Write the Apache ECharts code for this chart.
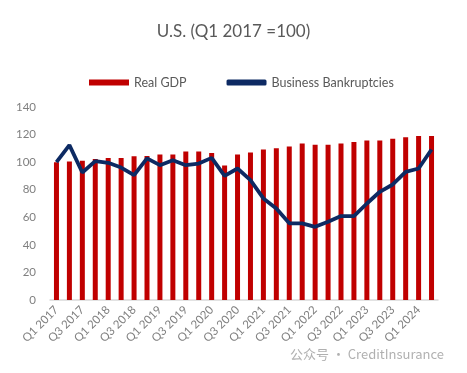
<!DOCTYPE html>
<html><head><meta charset="utf-8">
<script src="https://cdn.jsdelivr.net/npm/echarts@6/dist/echarts.min.js"></script>
<style>html,body{margin:0;padding:0;background:#fff}#c{width:467px;height:373px}</style>
</head><body><div id="c"></div>
<script>
const categories = ["Q1 2017","Q2 2017","Q3 2017","Q4 2017","Q1 2018","Q2 2018","Q3 2018","Q4 2018","Q1 2019","Q2 2019","Q3 2019","Q4 2019","Q1 2020","Q2 2020","Q3 2020","Q4 2020","Q1 2021","Q2 2021","Q3 2021","Q4 2021","Q1 2022","Q2 2022","Q3 2022","Q4 2022","Q1 2023","Q2 2023","Q3 2023","Q4 2023","Q1 2024","Q2 2024"];
const realGDP = [100,100.5,101,102.2,103,103,104.3,104.5,105.5,105.5,107.7,107.7,106.7,97.6,105.5,107,109.2,110.1,111.3,113.5,112.6,112.6,113.5,114.7,115.7,115.7,116.9,118.1,119,119];
const bankruptcies = [100,112.3,92.5,100.7,99.5,96.1,90.6,102.7,97.8,101.4,97.8,99,103.1,90,95.4,87,73.7,66.4,55.6,55.6,53.1,56.8,60.9,60.9,70,78.5,83.8,93,95.4,109.2];
const yTicks = [0,20,40,60,80,100,120,140];
const titleText = "U.S. (Q1 2017 =100)";
const watermark = "公众号 · CreditInsurance";

const FONT = "Lato, 'Liberation Sans', sans-serif";
const chart = echarts.init(document.getElementById('c'));
chart.setOption({
  animation: false,
  textStyle: {fontFamily: FONT},
  title: {
    text: titleText, left: 'center', top: 18,
    textStyle: {color: '#595959', fontSize: 17, fontWeight: 'normal', fontFamily: FONT}
  },
  legend: {
    top: 71, left: 84, itemGap: 40, itemWidth: 40, itemHeight: 6,
    textStyle: {color: '#595959', fontSize: 12.5, fontFamily: FONT},
    data: [
      {name: 'Real GDP', icon: 'rect'},
      {name: 'Business Bankruptcies', icon: 'roundRect'}
    ]
  },
  grid: {left: 50, right: 29, top: 107, bottom: 73, containLabel: false},
  xAxis: {
    type: 'category', data: categories, boundaryGap: true,
    axisLine: {lineStyle: {color: '#d9d9d9', width: 1.5}},
    axisTick: {show: false},
    axisLabel: {rotate: 45, interval: 1, color: '#7f7f7f', fontSize: 11.5, margin: 8, fontFamily: FONT}
  },
  yAxis: {
    type: 'value', min: 0, max: 140, interval: 20,
    axisLine: {show: false}, axisTick: {show: false}, splitLine: {show: false},
    axisLabel: {color: '#7f7f7f', fontSize: 11.5, margin: 14, fontFamily: FONT}
  },
  series: [
    {name: 'Real GDP', type: 'bar', data: realGDP, barWidth: 5,
     itemStyle: {color: '#c00000'}},
    {name: 'Business Bankruptcies', type: 'line', data: bankruptcies,
     symbol: 'none', lineStyle: {color: '#0d2a63', width: 3.8}, itemStyle: {color: '#0d2a63'}}
  ],
  graphic: [
    {type: 'text', left: 290, top: 348, silent: true,
     style: {text: watermark, fill: 'rgba(150,150,150,0.75)', fontSize: 13, fontFamily: "'Noto Sans CJK SC', " + FONT}}
  ]
});
</script></body></html>
